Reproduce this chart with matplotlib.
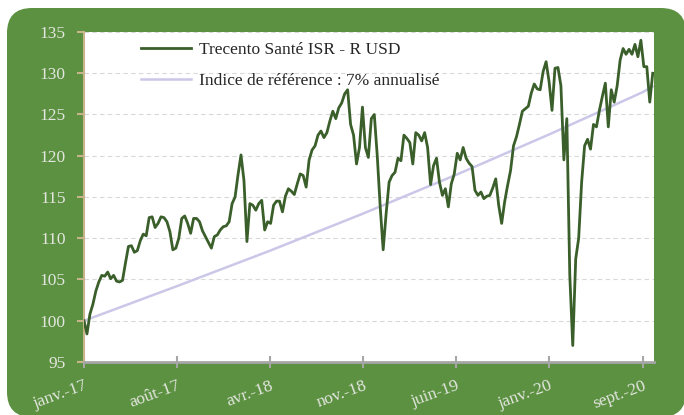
import matplotlib
matplotlib.use('Agg')
import matplotlib.pyplot as plt
import matplotlib.patches as mpatches
import pandas as pd

# Fund NAV, one value per week from 20 Jan 2017 (base 100)
start = pd.Timestamp('2017-01-20')
nav = [100.0, 98.4, 100.8, 102.0, 103.6, 104.7, 105.5, 105.4, 105.9, 105.1,
       105.5, 104.8, 104.7, 104.9, 107.0, 109.0, 109.1, 108.3, 108.5, 109.7,
       110.5, 110.3, 112.5, 112.6, 111.3, 111.8, 112.6, 112.5, 112.0, 110.8,
       108.6, 108.8, 110.0, 112.4, 112.7, 111.8, 110.6, 112.4, 112.4, 112.0,
       110.9, 110.2, 109.5, 108.8, 110.2, 110.4, 111.0, 111.4, 111.5, 112.0,
       114.2, 115.0, 117.7, 120.1, 117.0, 109.6, 114.2, 114.0, 113.4, 114.2,
       114.6, 111.0, 112.0, 111.8, 114.0, 114.5, 114.5, 113.2, 115.1, 116.0,
       115.7, 115.3, 116.6, 117.8, 117.6, 116.2, 119.5, 120.7, 121.2, 122.5,
       123.0, 122.2, 122.8, 124.2, 125.4, 124.5, 125.8, 126.4, 127.5, 128.0,
       123.8, 122.5, 119.0, 121.0, 125.9, 121.0, 119.8, 124.5, 125.0, 120.0,
       113.8, 108.6, 113.0, 116.8, 117.6, 118.0, 119.7, 119.4, 122.5, 122.1,
       121.6, 119.0, 122.8, 122.5, 121.8, 122.8, 121.0, 116.5, 118.8, 119.7,
       116.8, 115.2, 116.0, 113.8, 116.6, 117.8, 120.3, 119.5, 121.0, 119.7,
       119.1, 118.7, 115.8, 115.2, 115.6, 114.8, 115.1, 115.2, 116.1, 117.2,
       114.0, 111.8, 114.4, 116.4, 118.2, 121.2, 122.3, 123.8, 125.4, 125.7,
       126.0, 127.6, 128.7, 128.1, 128.0, 130.2, 131.4, 129.0, 125.5, 130.6,
       130.7, 128.5, 119.5, 124.5, 105.5, 97.0, 107.5, 110.0, 116.8, 121.2,
       122.0, 120.8, 123.8, 123.5, 125.5, 127.2, 128.8, 123.5, 128.0, 126.5,
       128.5, 131.6, 133.0, 132.3, 132.9, 132.3, 133.5, 132.0, 134.0, 130.8,
       130.8, 126.5, 130.0]
nav_dates = pd.date_range(start, periods=len(nav), freq='7D')

# Benchmark (7% annualised), read at a few dates
bench_days = [0, 220, 440, 660, 880, 1100, 1320, 1344]
bench = [100.0, 104.2, 108.5, 113.0, 117.7, 122.6, 127.7, 128.4]
bench_dates = [start + pd.Timedelta(days=d) for d in bench_days]

tick_labels = ['janv.-17', 'août-17', 'avr.-18', 'nov.-18', 'juin-19', 'janv.-20', 'sept.-20']
tick_dates = [start + pd.Timedelta(days=220 * i) for i in range(len(tick_labels))]

green = '#5B9140'
plt.rcParams['font.family'] = ['Liberation Serif', 'DejaVu Serif']

fig = plt.figure(figsize=(6.84, 4.15), dpi=100)
fig.patch.set_facecolor('white')
box = mpatches.FancyBboxPatch((0.07, -0.02), 6.79, 4.09,
                              boxstyle='round,pad=0,rounding_size=0.25',
                              transform=fig.dpi_scale_trans, fc=green, ec='none',
                              zorder=-10)
fig.add_artist(box)

ax = fig.add_axes([84 / 684, 53 / 415, 570 / 684, 330 / 415])
ax.set_facecolor('white')

ax.plot(nav_dates, nav, color='#3A5F2A', lw=2.0, label='Trecento Santé ISR - R USD', zorder=3)
ax.plot(bench_dates, bench, color='#CBC7E8', lw=1.8, label='Indice de référence : 7% annualisé', zorder=2)

ax.set_ylim(95, 135)
ax.set_yticks(range(95, 136, 5))
ax.set_xlim(start, start + pd.Timedelta(days=1347))
ax.set_xticks(tick_dates)
ax.set_xticklabels(tick_labels, rotation=20, ha='right', va='top', rotation_mode='anchor')

ax.grid(axis='y', color='#D9D9D9', ls=(0, (4, 3)), lw=0.8)
ax.set_axisbelow(True)
for s in ['top', 'right']:
    ax.spines[s].set_visible(False)
ax.spines['left'].set_color('#C8B48A')
ax.spines['left'].set_linewidth(1.5)
ax.spines['bottom'].set_color('#A6A6A6')
ax.spines['bottom'].set_linewidth(2)

ax.tick_params(axis='y', colors='#C8B48A', length=5, width=1.5, labelsize=12.5,
               labelcolor='#E4E6E0', pad=8)
ax.tick_params(axis='x', colors='#A6A6A6', direction='inout', length=9, width=1.5,
               labelsize=12.5, labelcolor='#E4E6E0', pad=7)

leg = ax.legend(loc='upper left', bbox_to_anchor=(0.1, 0.97), frameon=False,
                fontsize=12.5, handlelength=2.9, handletextpad=0.45,
                labelspacing=0.84, borderpad=0, borderaxespad=0)
for t in leg.get_texts():
    t.set_color('#262626')

fig.savefig('out.png', dpi=100, facecolor='white')
